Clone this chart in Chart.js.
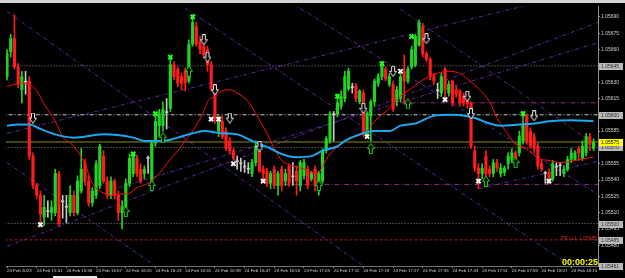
<!DOCTYPE html>
<html>
<head>
<meta charset="utf-8">
<script src="https://cdn.jsdelivr.net/npm/chart.js@4.4.1/dist/chart.umd.min.js"></script>
<style>
  html, body { margin: 0; padding: 0; background: #000; }
  #wrap { width: 625px; height: 278px; }
</style>
</head>
<body>
<div id="wrap"><canvas id="chart" width="625" height="278"></canvas></div>
<script>
// ---------- Data (M1 candles, 24 Feb 2023 15:43 .. 18:21) ----------
const OPEN = [1.05635,1.05658,1.05670,1.05644,1.05623,1.05630,1.05631,1.05562,1.05535,1.05526,
  1.05506,1.05511,1.05510,1.05510,1.05546,1.05520,1.05515,1.05510,1.05526,1.05510,
  1.05530,1.05556,1.05539,1.05519,1.05526,1.05535,1.05562,1.05539,1.05526,1.05539,
  1.05526,1.05510,1.05515,1.05537,1.05546,1.05560,1.05550,1.05546,1.05560,1.05539,
  1.05574,1.05590,1.05590,1.05602,1.05606,1.05646,1.05642,1.05635,1.05640,1.05631,
  1.05665,1.05681,1.05667,1.05663,1.05660,1.05646,1.05624,1.05585,1.05594,1.05585,
  1.05576,1.05567,1.05557,1.05555,1.05552,1.05550,1.05546,1.05556,1.05567,1.05550,
  1.05548,1.05537,1.05550,1.05535,1.05550,1.05539,1.05553,1.05543,1.05548,1.05535,
  1.05544,1.05550,1.05541,1.05550,1.05535,1.05539,1.05567,1.05576,1.05600,1.05601,
  1.05608,1.05615,1.05624,1.05625,1.05626,1.05612,1.05620,1.05582,1.05599,1.05612,
  1.05629,1.05635,1.05642,1.05628,1.05628,1.05612,1.05615,1.05640,1.05631,1.05644,
  1.05646,1.05664,1.05681,1.05656,1.05651,1.05635,1.05622,1.05620,1.05642,1.05620,
  1.05631,1.05623,1.05622,1.05617,1.05616,1.05611,1.05567,1.05551,1.05546,1.05562,
  1.05550,1.05546,1.05556,1.05546,1.05547,1.05555,1.05559,1.05565,1.05565,1.05576,
  1.05599,1.05585,1.05580,1.05571,1.05555,1.05546,1.05547,1.05541,1.05552,1.05553,
  1.05546,1.05550,1.05559,1.05559,1.05569,1.05560,1.05565,1.05580,1.05569];
const HIGH = [1.05660,1.05674,1.05692,1.05647,1.05640,1.05640,1.05635,1.05565,1.05537,1.05530,
  1.05526,1.05521,1.05521,1.05550,1.05548,1.05526,1.05526,1.05535,1.05530,1.05544,
  1.05569,1.05559,1.05544,1.05533,1.05558,1.05573,1.05567,1.05543,1.05543,1.05541,
  1.05530,1.05521,1.05541,1.05564,1.05565,1.05563,1.05555,1.05553,1.05562,1.05576,
  1.05599,1.05605,1.05612,1.05615,1.05653,1.05649,1.05644,1.05638,1.05643,1.05669,
  1.05692,1.05685,1.05672,1.05665,1.05663,1.05649,1.05626,1.05599,1.05599,1.05588,
  1.05579,1.05569,1.05562,1.05560,1.05558,1.05556,1.05559,1.05576,1.05571,1.05553,
  1.05551,1.05548,1.05553,1.05548,1.05553,1.05550,1.05555,1.05556,1.05553,1.05558,
  1.05559,1.05553,1.05548,1.05553,1.05548,1.05569,1.05580,1.05603,1.05603,1.05619,
  1.05622,1.05640,1.05643,1.05629,1.05629,1.05623,1.05623,1.05603,1.05614,1.05633,
  1.05638,1.05649,1.05644,1.05638,1.05631,1.05626,1.05638,1.05655,1.05644,1.05663,
  1.05674,1.05687,1.05684,1.05658,1.05653,1.05638,1.05629,1.05638,1.05644,1.05631,
  1.05632,1.05626,1.05623,1.05620,1.05619,1.05612,1.05571,1.05555,1.05555,1.05567,
  1.05553,1.05559,1.05559,1.05555,1.05553,1.05565,1.05569,1.05567,1.05585,1.05603,
  1.05601,1.05588,1.05583,1.05574,1.05558,1.05548,1.05550,1.05558,1.05556,1.05556,
  1.05553,1.05562,1.05569,1.05567,1.05571,1.05576,1.05583,1.05583,1.05578];
const LOW = [1.05632,1.05653,1.05642,1.05625,1.05611,1.05619,1.05559,1.05532,1.05523,1.05497,
  1.05498,1.05506,1.05503,1.05507,1.05498,1.05505,1.05501,1.05507,1.05507,1.05508,
  1.05528,1.05535,1.05516,1.05516,1.05523,1.05532,1.05537,1.05523,1.05523,1.05523,
  1.05503,1.05495,1.05512,1.05534,1.05543,1.05543,1.05537,1.05541,1.05546,1.05537,
  1.05571,1.05580,1.05585,1.05587,1.05603,1.05632,1.05626,1.05623,1.05622,1.05629,
  1.05663,1.05663,1.05656,1.05653,1.05640,1.05622,1.05592,1.05580,1.05578,1.05567,
  1.05564,1.05558,1.05550,1.05548,1.05547,1.05546,1.05543,1.05553,1.05547,1.05539,
  1.05534,1.05532,1.05532,1.05526,1.05530,1.05535,1.05534,1.05535,1.05526,1.05530,
  1.05541,1.05532,1.05539,1.05530,1.05526,1.05537,1.05565,1.05574,1.05576,1.05598,
  1.05605,1.05612,1.05622,1.05620,1.05612,1.05610,1.05580,1.05579,1.05576,1.05608,
  1.05626,1.05632,1.05631,1.05626,1.05603,1.05608,1.05612,1.05610,1.05629,1.05642,
  1.05644,1.05663,1.05653,1.05649,1.05632,1.05628,1.05615,1.05617,1.05614,1.05617,
  1.05608,1.05616,1.05608,1.05608,1.05606,1.05569,1.05548,1.05532,1.05541,1.05543,
  1.05543,1.05543,1.05548,1.05543,1.05544,1.05550,1.05556,1.05558,1.05562,1.05573,
  1.05573,1.05569,1.05565,1.05550,1.05548,1.05537,1.05537,1.05539,1.05544,1.05544,
  1.05543,1.05548,1.05556,1.05558,1.05558,1.05558,1.05562,1.05567,1.05567];
const CLOSE = [1.05656,1.05670,1.05644,1.05628,1.05635,1.05630,1.05562,1.05535,1.05526,1.05509,
  1.05515,1.05511,1.05515,1.05546,1.05500,1.05520,1.05515,1.05526,1.05510,1.05539,
  1.05550,1.05539,1.05519,1.05530,1.05555,1.05571,1.05539,1.05526,1.05539,1.05526,
  1.05510,1.05516,1.05537,1.05560,1.05562,1.05546,1.05539,1.05550,1.05560,1.05574,
  1.05594,1.05601,1.05605,1.05602,1.05646,1.05635,1.05629,1.05629,1.05629,1.05665,
  1.05685,1.05665,1.05660,1.05655,1.05646,1.05624,1.05596,1.05594,1.05580,1.05569,
  1.05567,1.05560,1.05557,1.05555,1.05552,1.05550,1.05556,1.05571,1.05548,1.05546,
  1.05537,1.05546,1.05535,1.05546,1.05535,1.05546,1.05537,1.05543,1.05539,1.05556,
  1.05556,1.05535,1.05546,1.05535,1.05546,1.05567,1.05578,1.05601,1.05600,1.05611,
  1.05617,1.05635,1.05640,1.05625,1.05615,1.05622,1.05583,1.05601,1.05612,1.05631,
  1.05635,1.05646,1.05633,1.05635,1.05605,1.05623,1.05635,1.05631,1.05642,1.05660,
  1.05672,1.05685,1.05656,1.05651,1.05635,1.05631,1.05622,1.05635,1.05623,1.05628,
  1.05611,1.05619,1.05611,1.05611,1.05610,1.05571,1.05551,1.05546,1.05551,1.05546,
  1.05546,1.05556,1.05551,1.05551,1.05551,1.05562,1.05565,1.05560,1.05580,1.05591,
  1.05576,1.05571,1.05569,1.05553,1.05550,1.05546,1.05539,1.05555,1.05552,1.05553,
  1.05550,1.05559,1.05565,1.05565,1.05565,1.05571,1.05580,1.05573,1.05575];

// moving averages, read at bar index
const MA_FAST = [[0,1.05626],[2,1.05628],[5,1.05629],[8,1.05622],[10,1.05610],[13,1.05594],[15,1.05580],
  [18,1.05571],[21,1.05555],[23,1.05537],[26,1.05528],[28,1.05526],[30,1.05527],[33,1.05528],[35,1.05533],
  [38,1.05537],[41,1.05546],[43,1.05555],[46,1.05567],[48,1.05576],[50,1.05585],[53,1.05603],[54,1.05612],
  [56,1.05617],[58,1.05622],[60,1.05623],[62,1.05620],[65,1.05612],[67,1.05601],[70,1.05583],[72,1.05569],
  [74,1.05558],[77,1.05553],[80,1.05550],[82,1.05547],[84,1.05547],[85,1.05553],[87,1.05564],[90,1.05573],
  [92,1.05578],[94,1.05580],[97,1.05585],[99,1.05594],[103,1.05606],[106,1.05617],[108,1.05622],[112,1.05632],
  [115,1.05637],[119,1.05640],[122,1.05638],[124,1.05633],[127,1.05624],[130,1.05612],[132,1.05597],
  [135,1.05582],[137,1.05573],[140,1.05569],[143,1.05560],[146,1.05558],[149,1.05556],[153,1.05558],
  [156,1.05560],[158,1.05561]];
const MA_SLOW = [[0,1.05590],[3,1.05591],[6,1.05591],[9,1.05587],[13,1.05582],[18,1.05579],[26,1.05582],
  [34,1.05579],[37,1.05576],[42,1.05576],[46,1.05579],[50,1.05583],[53,1.05585],[58,1.05583],[62,1.05582],
  [66,1.05576],[71,1.05569],[74,1.05564],[78,1.05561],[82,1.05562],[85,1.05567],[89,1.05571],[91,1.05576],
  [95,1.05582],[99,1.05585],[103,1.05585],[106,1.05590],[110,1.05592],[115,1.05599],[120,1.05600],
  [126,1.05597],[130,1.05592],[133,1.05590],[138,1.05591],[142,1.05592],[146,1.05594],[152,1.05595],
  [158,1.05594]];

// signal marks [bar, price]
const SELL_ARROWS = [[7,1.05597],[53,1.05669],[54,1.05653],[56,1.05623],[60,1.05597],[68,1.05571],
  [96,1.05606],[104,1.05640],[113,1.05670],[124,1.05617],[125,1.05601],[142,1.05599]];
const BUY_ARROWS = [[32,1.05511],[39,1.05535],[42,1.05579],[49,1.05640],[84,1.05535],[98,1.05569],
  [108,1.05610],[129,1.05539],[137,1.05556]];
const GREEN_X = [[34,1.05564],[40,1.05601],[44,1.05653],[50,1.05690],[89,1.05617],[101,1.05647],
  [109,1.05672],[139,1.05601]];
const WHITE_X = [[9,1.05499],[55,1.05596],[57,1.05596],[61,1.05555],[69,1.05539],[97,1.05580],
  [106,1.05640],[118,1.05614],[127,1.05539],[146,1.05539]];

// drawn objects
const TREND_LINES = [
  [[0,1.05556],[40,1.05461]],
  [[0,1.05695],[96,1.05461]],
  [[48,1.05698],[152,1.05461]],
  [[106,1.05697],[160,1.05569]],
  [[77,1.05702],[160,1.05525]],
  [[0,1.05479],[160,1.05686]],
  [[0,1.05583],[144,1.05704]],
  [[30,1.05533],[160,1.05667]],
  [[127,1.05532],[160,1.05558]],
];
const DOTTED_LEVELS = [1.05645, 1.05570, 1.05500];
const DASHDOT_LEVEL = 1.05600;
const BID = 1.05575;
const STOP_LEVEL = 1.05485;
const PARTIAL_LEVELS = [[106,1.05611],[72,1.05536]];   // [start bar, price]

const PRICE_TICKS = [1.05480,1.05495,1.05510,1.05525,1.05540,1.05555,1.05570,1.05585,
  1.05600,1.05615,1.05630,1.05645,1.05660,1.05675,1.05690];
const TIME_LABELS = ['24 Feb 2023','24 Feb 15:51','24 Feb 15:59','24 Feb 16:07','24 Feb 16:15',
  '24 Feb 16:23','24 Feb 16:31','24 Feb 16:39','24 Feb 16:47','24 Feb 16:55','24 Feb 17:03',
  '24 Feb 17:11','24 Feb 17:19','24 Feb 17:27','24 Feb 17:35','24 Feb 17:43','24 Feb 17:51',
  '24 Feb 17:59','24 Feb 18:07','24 Feb 18:15'];
const LABEL_EVERY = 8;
const AXIS_BOXES = [1.05645, 1.05600, 1.05570, 1.05500, 1.05485, 1.05461];
const PRICE_MIN = 1.05461, PRICE_MAX = 1.05700;
const TIMER_TEXT = '00:00:25';
const STOP_TEXT = 'PE LLL 1.05485';

// ---------- Helpers ----------
const GREEN = '#22d322', RED = '#ff1c1c', DOJI = '#c8c8c8';
const FONT = '"Liberation Sans", Arial, sans-serif';
const candleColor = (i) => CLOSE[i] > OPEN[i] ? GREEN : (CLOSE[i] < OPEN[i] ? RED : DOJI);
const pts = (arr) => arr.map(([x, y]) => ({ x, y }));
const flat = (x0, x1, y) => [{ x: x0, y }, { x: x1, y }];

function arrowImg(up, stroke) {
  const cv = document.createElement('canvas');
  cv.width = 8; cv.height = 11;
  const g = cv.getContext('2d');
  g.save();
  if (up) { g.translate(0, 11); g.scale(1, -1); }
  g.beginPath();
  g.moveTo(2.5, 0.5); g.lineTo(5.5, 0.5); g.lineTo(5.5, 5.5); g.lineTo(7.5, 5.5);
  g.lineTo(4, 10.5); g.lineTo(0.5, 5.5); g.lineTo(2.5, 5.5); g.closePath();
  g.fillStyle = '#000'; g.fill();
  g.strokeStyle = stroke; g.lineWidth = 1; g.stroke();
  g.restore();
  return cv;
}

function lineSet(data, color, width, dash, order) {
  return { type: 'line', data, borderColor: color, borderWidth: width, borderDash: dash,
           pointRadius: 0, fill: false, tension: 0, order };
}

// ---------- Chrome & labels plugin ----------
const chrome = {
  id: 'chrome',
  beforeDraw(chart) {
    const { ctx, width, height } = chart;
    ctx.save();
    ctx.fillStyle = '#000'; ctx.fillRect(0, 0, width, height);
    ctx.fillStyle = '#d4d4d4'; ctx.fillRect(0, 0, width, 3);
    ctx.fillStyle = '#e8e8e8'; ctx.fillRect(53, 276, 44, 2);
    ctx.restore();
  },
  afterDraw(chart) {
    const { ctx } = chart;
    const y = chart.scales.y;
    const area = chart.chartArea;
    ctx.save();
    ctx.textBaseline = 'middle';
    ctx.font = '5px ' + FONT;
    AXIS_BOXES.forEach((v) => {
      const py = Math.round(y.getPixelForValue(v));
      ctx.fillStyle = '#b8b8b8'; ctx.fillRect(599, py - 3, 24, 7);
      ctx.fillStyle = '#303030'; ctx.textAlign = 'left'; ctx.fillText(v.toFixed(5), 601, py + 0.5);
    });
    const pb = Math.round(y.getPixelForValue(BID));
    ctx.fillStyle = '#ffff00'; ctx.fillRect(599, pb - 3, 24, 7);
    ctx.fillStyle = '#000'; ctx.fillText(BID.toFixed(5), 601, pb + 0.5);

    ctx.fillStyle = '#d02828'; ctx.textAlign = 'right';
    ctx.fillText(STOP_TEXT, area.right - 1, y.getPixelForValue(STOP_LEVEL) - 1.5);

    ctx.font = 'bold 9px ' + FONT;
    ctx.fillStyle = '#ffff00'; ctx.textBaseline = 'alphabetic';
    ctx.fillText(TIMER_TEXT, area.right, area.bottom - 1);
    ctx.restore();
  },
};

// ---------- Chart ----------
const N = OPEN.length;
const LAST = N + 2;
const datasets = [
  // candles: wick then body
  { type: 'bar', data: OPEN.map((_, i) => ({ x: i, y: [LOW[i], HIGH[i]] })),
    backgroundColor: (c) => candleColor(c.dataIndex), barThickness: 1, grouped: false, order: 4 },
  { type: 'bar', data: OPEN.map((o, i) => ({ x: i, y: [o, CLOSE[i]] })),
    backgroundColor: (c) => candleColor(c.dataIndex), barThickness: 2.5, minBarLength: 1,
    grouped: false, order: 3 },
  // moving averages
  { ...lineSet(pts(MA_SLOW), '#1aa8ee', 2, [], 2), cubicInterpolationMode: 'monotone' },
  { ...lineSet(pts(MA_FAST), '#ff1010', 1, [], 2), cubicInterpolationMode: 'monotone' },
  // signals
  { type: 'scatter', data: pts(SELL_ARROWS), pointStyle: arrowImg(false, '#e6e6e6'), order: 1 },
  { type: 'scatter', data: pts(BUY_ARROWS), pointStyle: arrowImg(true, '#1ed41e'), order: 1 },
  { type: 'scatter', data: pts(GREEN_X), pointStyle: 'crossRot', radius: 3, borderWidth: 2,
    borderColor: '#22ff22', order: 1 },
  { type: 'scatter', data: pts(WHITE_X), pointStyle: 'crossRot', radius: 3, borderWidth: 2,
    borderColor: '#ffffff', order: 1 },
];
TREND_LINES.forEach((l) => datasets.push(lineSet(pts(l), '#5a2a98', 1, [4, 2, 1, 2], 10)));
DOTTED_LEVELS.forEach((v) => datasets.push(lineSet(flat(-2, LAST, v), '#8a8a8a', 1, [1, 2], 9)));
datasets.push(lineSet(flat(-2, LAST, DASHDOT_LEVEL), '#c8c8c8', 1, [4, 2, 1, 2], 9));
datasets.push(lineSet(flat(-2, LAST, BID), '#8c8c14', 1, [], 9));
datasets.push(lineSet(flat(-2, LAST, STOP_LEVEL), '#b01818', 1, [3, 2], 9));
PARTIAL_LEVELS.forEach(([x0, v]) => datasets.push(lineSet(flat(x0, LAST, v), '#8a2f7e', 1, [5, 2, 1, 2], 9)));

new Chart(document.getElementById('chart'), {
  type: 'bar',
  data: { datasets },
  plugins: [chrome],
  options: {
    responsive: false,
    animation: false,
    events: [],
    layout: { padding: { top: 4, left: 0, right: 0, bottom: 0 } },
    plugins: { legend: { display: false }, tooltip: { enabled: false } },
    scales: {
      x: {
        type: 'linear', offset: false, min: -0.27, max: 159.2,
        afterBuildTicks: (s) => { s.ticks = TIME_LABELS.map((_, k) => ({ value: k * LABEL_EVERY })); },
        afterFit: (s) => { s.height = 12; },
        grid: { offset: false, drawOnChartArea: false, drawTicks: true, tickLength: 2, color: '#909090' },
        border: { display: true, color: '#707070', dash: [1, 1] },
        ticks: {
          autoSkip: false, maxRotation: 0, minRotation: 0, align: 'start', padding: 0,
          color: '#d0d0d0', font: { family: FONT, size: 4.4 },
          callback: (v) => TIME_LABELS[Math.round(v / LABEL_EVERY)],
        },
      },
      y: {
        type: 'linear', position: 'right', min: PRICE_MIN, max: PRICE_MAX,
        afterBuildTicks: (s) => { s.ticks = PRICE_TICKS.map((v) => ({ value: v })); },
        afterFit: (s) => { s.width = 27; },
        grid: { drawOnChartArea: false, drawTicks: true, tickLength: 2, color: '#909090' },
        border: { display: true, color: '#909090' },
        ticks: { padding: 1, color: '#d0d0d0', font: { family: FONT, size: 5 },
                 callback: (v) => v.toFixed(5) },
      },
    },
  },
});
</script>
</body>
</html>
